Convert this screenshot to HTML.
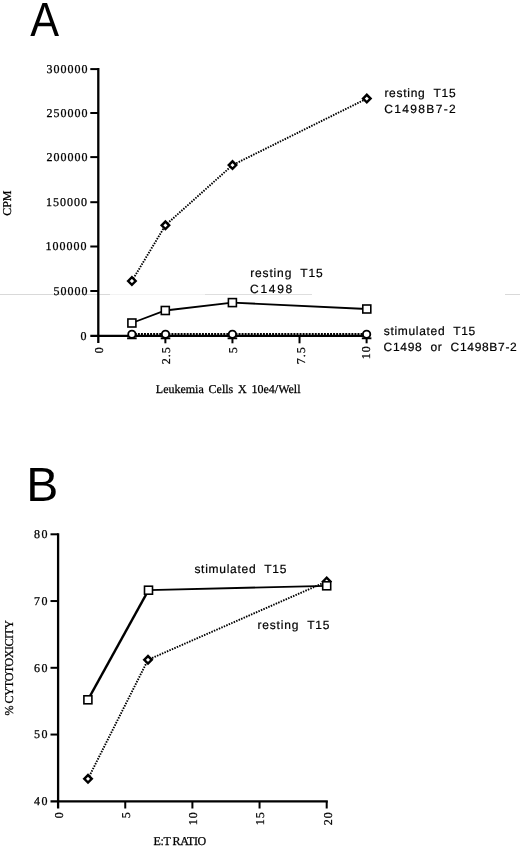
<!DOCTYPE html><html><head><meta charset="utf-8"><title>Figure</title>
<style>html,body{margin:0;padding:0;background:#fff}svg{display:block;filter:blur(.3px)}text{white-space:pre;text-rendering:geometricPrecision}.s{font-family:"Liberation Serif",serif;font-size:12px;fill:#000;stroke:#000;stroke-width:.26px}.h{font-family:"Liberation Sans",sans-serif;font-size:12px;fill:#000;stroke:#000;stroke-width:.2px}.b{font-family:"Liberation Sans",sans-serif;font-size:48px;fill:#000}</style></head><body>
<svg width="520" height="849" viewBox="0 0 520 849">
<rect width="520" height="849" fill="#fff"/>
<line x1="0" y1="294.5" x2="110" y2="294.5" stroke="#d9d9d9" stroke-width="1"/>
<line x1="110" y1="294.5" x2="205" y2="294.5" stroke="#f3f3f3" stroke-width="1"/>
<line x1="205" y1="294.5" x2="312" y2="294.5" stroke="#dedede" stroke-width="1"/>
<line x1="505" y1="294.5" x2="520" y2="294.5" stroke="#d9d9d9" stroke-width="1"/>
<text class="b" transform="translate(30.35 35.55) scale(0.9 1)" x="0" y="0">A</text>
<line x1="98.3" y1="68.1" x2="98.3" y2="343" stroke="#000" stroke-width="2.3"/>
<line x1="90.3" y1="335.9" x2="367.9" y2="335.9" stroke="#000" stroke-width="2.3"/>
<text class="s" x="87.4" y="339.60" text-anchor="end" letter-spacing="1">0</text>
<line x1="90.3" y1="291.00" x2="98.3" y2="291.00" stroke="#000" stroke-width="2"/>
<text class="s" x="88.5" y="294.70" text-anchor="end" letter-spacing="1">50000</text>
<line x1="90.3" y1="246.50" x2="98.3" y2="246.50" stroke="#000" stroke-width="2"/>
<text class="s" x="87.6" y="250.20" text-anchor="end" letter-spacing="1">100000</text>
<line x1="90.3" y1="202.20" x2="98.3" y2="202.20" stroke="#000" stroke-width="2"/>
<text class="s" x="88.0" y="205.90" text-anchor="end" letter-spacing="1">150000</text>
<line x1="90.3" y1="157.10" x2="98.3" y2="157.10" stroke="#000" stroke-width="2"/>
<text class="s" x="88.5" y="160.80" text-anchor="end" letter-spacing="1">200000</text>
<line x1="90.3" y1="113.00" x2="98.3" y2="113.00" stroke="#000" stroke-width="2"/>
<text class="s" x="88.5" y="116.70" text-anchor="end" letter-spacing="1">250000</text>
<line x1="90.3" y1="69.10" x2="98.3" y2="69.10" stroke="#000" stroke-width="2"/>
<text class="s" x="88.5" y="72.80" text-anchor="end" letter-spacing="1">300000</text>
<text class="s" transform="translate(103.30 346.2) rotate(-90)" text-anchor="end" letter-spacing="1">0</text>
<line x1="165.38" y1="335.9" x2="165.38" y2="343.3" stroke="#000" stroke-width="2"/>
<text class="s" transform="translate(170.38 346.2) rotate(-90)" text-anchor="end" letter-spacing="1">2.5</text>
<line x1="232.45" y1="335.9" x2="232.45" y2="343.3" stroke="#000" stroke-width="2"/>
<text class="s" transform="translate(237.45 346.2) rotate(-90)" text-anchor="end" letter-spacing="1">5</text>
<line x1="299.52" y1="335.9" x2="299.52" y2="343.3" stroke="#000" stroke-width="2"/>
<text class="s" transform="translate(304.52 346.2) rotate(-90)" text-anchor="end" letter-spacing="1">7.5</text>
<line x1="366.60" y1="335.9" x2="366.60" y2="343.3" stroke="#000" stroke-width="2"/>
<text class="s" transform="translate(370.40 345.2) rotate(-90)" text-anchor="end" letter-spacing="1">10</text>
<text class="s" transform="translate(11.2 215.8) rotate(-90)" textLength="25.3" lengthAdjust="spacing">CPM</text>
<text class="s" x="155.8" y="392.8" word-spacing="1.8">Leukemia Cells X 10e4/Well</text>
<polyline points="131.90,281.00 165.40,225.30 232.50,165.10 366.80,98.60" fill="none" stroke="#000" stroke-width="1.9" stroke-dasharray="1.5 1.2"/>
<polyline points="131.90,323.00 165.30,310.50 232.40,302.60 366.80,309.00" fill="none" stroke="#000" stroke-width="1.8"/>
<line x1="131.8" y1="334.0" x2="366.8" y2="334.0" stroke="#000" stroke-width="1.9" stroke-dasharray="1.95 1.1"/>
<line x1="127.10" y1="338.3" x2="136.70" y2="338.3" stroke="#000" stroke-width="1.9"/>
<line x1="160.70" y1="338.3" x2="170.30" y2="338.3" stroke="#000" stroke-width="1.9"/>
<line x1="227.60" y1="338.3" x2="237.20" y2="338.3" stroke="#000" stroke-width="1.9"/>
<line x1="361.80" y1="338.3" x2="371.40" y2="338.3" stroke="#000" stroke-width="1.9"/>
<path d="M128.15 281.00L131.90 277.25L135.65 281.00L131.90 284.75Z" fill="#fff" stroke="#000" stroke-width="2.45" stroke-linejoin="miter"/>
<path d="M161.65 225.30L165.40 221.55L169.15 225.30L165.40 229.05Z" fill="#fff" stroke="#000" stroke-width="2.45" stroke-linejoin="miter"/>
<path d="M228.75 165.10L232.50 161.35L236.25 165.10L232.50 168.85Z" fill="#fff" stroke="#000" stroke-width="2.45" stroke-linejoin="miter"/>
<path d="M363.05 98.60L366.80 94.85L370.55 98.60L366.80 102.35Z" fill="#fff" stroke="#000" stroke-width="2.45" stroke-linejoin="miter"/>
<rect x="127.90" y="319.00" width="8.0" height="8.0" fill="#fff" stroke="#000" stroke-width="1.6"/>
<rect x="161.30" y="306.50" width="8.0" height="8.0" fill="#fff" stroke="#000" stroke-width="1.6"/>
<rect x="228.40" y="298.60" width="8.0" height="8.0" fill="#fff" stroke="#000" stroke-width="1.6"/>
<rect x="362.80" y="305.00" width="8.0" height="8.0" fill="#fff" stroke="#000" stroke-width="1.6"/>
<circle cx="131.90" cy="334.30" r="3.7" fill="#fff" stroke="#000" stroke-width="1.85"/>
<circle cx="165.50" cy="334.30" r="3.7" fill="#fff" stroke="#000" stroke-width="1.85"/>
<circle cx="232.40" cy="334.30" r="3.7" fill="#fff" stroke="#000" stroke-width="1.85"/>
<circle cx="366.60" cy="334.30" r="3.7" fill="#fff" stroke="#000" stroke-width="1.85"/>
<text class="h" x="384.4" y="96.8" textLength="71.2" lengthAdjust="spacing">resting  T15</text>
<text class="h" x="384.2" y="112.9" textLength="71.6" lengthAdjust="spacing">C1498B7-2</text>
<text class="h" x="250.2" y="277.4" textLength="72.5" lengthAdjust="spacing">resting  T15</text>
<text class="h" x="250" y="293.3" textLength="42.3" lengthAdjust="spacing">C1498</text>
<text class="h" x="383.8" y="334.8" textLength="91.4" lengthAdjust="spacing">stimulated  T15</text>
<text class="h" x="383.6" y="351.2" textLength="133.2" lengthAdjust="spacing">C1498  or  C1498B7-2</text>
<text class="b" x="26.2" y="500.7">B</text>
<line x1="58.1" y1="533.3" x2="58.1" y2="808.5" stroke="#000" stroke-width="2.3"/>
<line x1="50.5" y1="801.3" x2="327.8" y2="801.3" stroke="#000" stroke-width="2.3"/>
<text class="s" x="49.3" y="805.10" text-anchor="end" letter-spacing="1.7">40</text>
<line x1="50.5" y1="734.55" x2="58.1" y2="734.55" stroke="#000" stroke-width="2"/>
<text class="s" x="49.3" y="738.35" text-anchor="end" letter-spacing="1.7">50</text>
<line x1="50.5" y1="667.80" x2="58.1" y2="667.80" stroke="#000" stroke-width="2"/>
<text class="s" x="49.3" y="671.60" text-anchor="end" letter-spacing="1.7">60</text>
<line x1="50.5" y1="601.05" x2="58.1" y2="601.05" stroke="#000" stroke-width="2"/>
<text class="s" x="49.3" y="604.85" text-anchor="end" letter-spacing="1.7">70</text>
<line x1="50.5" y1="534.30" x2="58.1" y2="534.30" stroke="#000" stroke-width="2"/>
<text class="s" x="49.3" y="538.10" text-anchor="end" letter-spacing="1.7">80</text>
<text class="s" transform="translate(62.90 811.3) rotate(-90)" text-anchor="end" letter-spacing="1">0</text>
<line x1="125.25" y1="801.3" x2="125.25" y2="808.5" stroke="#000" stroke-width="2"/>
<text class="s" transform="translate(130.05 811.3) rotate(-90)" text-anchor="end" letter-spacing="1">5</text>
<line x1="192.40" y1="801.3" x2="192.40" y2="808.5" stroke="#000" stroke-width="2"/>
<text class="s" transform="translate(197.20 811.3) rotate(-90)" text-anchor="end" letter-spacing="1">10</text>
<line x1="259.55" y1="801.3" x2="259.55" y2="808.5" stroke="#000" stroke-width="2"/>
<text class="s" transform="translate(264.35 811.3) rotate(-90)" text-anchor="end" letter-spacing="1">15</text>
<line x1="326.70" y1="801.3" x2="326.70" y2="808.5" stroke="#000" stroke-width="2"/>
<text class="s" transform="translate(331.50 811.3) rotate(-90)" text-anchor="end" letter-spacing="1">20</text>
<text class="s" transform="translate(12.6 715.6) rotate(-90)" textLength="95.6" lengthAdjust="spacing">% CYTOTOXICITY</text>
<text class="s" x="153.6" y="844.8" textLength="52.6" lengthAdjust="spacing">E:T RATIO</text>
<polyline points="88.00,778.80 148.00,659.80 326.70,581.50" fill="none" stroke="#000" stroke-width="1.9" stroke-dasharray="1.5 1.2"/>
<polyline points="87.90,699.80 148.50,590.20" fill="none" stroke="#000" stroke-width="2.4"/>
<polyline points="148.50,590.20 326.70,585.80" fill="none" stroke="#000" stroke-width="1.8"/>
<path d="M84.25 778.80L88.00 775.05L91.75 778.80L88.00 782.55Z" fill="#fff" stroke="#000" stroke-width="2.45" stroke-linejoin="miter"/>
<path d="M144.25 659.80L148.00 656.05L151.75 659.80L148.00 663.55Z" fill="#fff" stroke="#000" stroke-width="2.45" stroke-linejoin="miter"/>
<path d="M322.95 581.50L326.70 577.75L330.45 581.50L326.70 585.25Z" fill="#fff" stroke="#000" stroke-width="2.45" stroke-linejoin="miter"/>
<rect x="83.90" y="695.80" width="8.0" height="8.0" fill="#fff" stroke="#000" stroke-width="1.6"/>
<rect x="144.50" y="586.20" width="8.0" height="8.0" fill="#fff" stroke="#000" stroke-width="1.6"/>
<rect x="322.70" y="581.80" width="8.0" height="8.0" fill="#fff" stroke="#000" stroke-width="1.6"/>
<text class="h" x="194.4" y="572.8" textLength="92" lengthAdjust="spacing">stimulated  T15</text>
<text class="h" x="257.5" y="628.8" textLength="72" lengthAdjust="spacing">resting  T15</text>
</svg></body></html>
